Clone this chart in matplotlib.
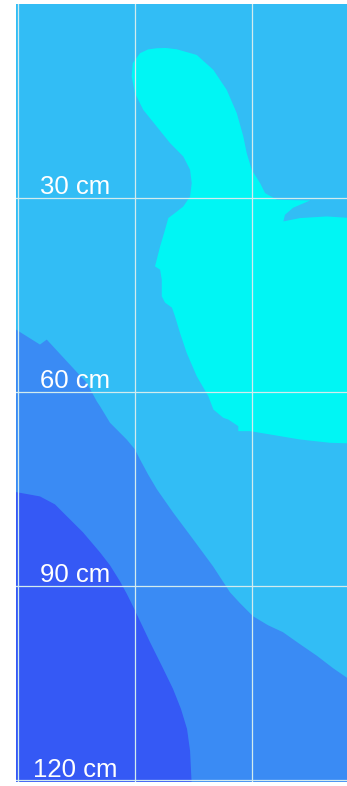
import matplotlib

matplotlib.use("Agg")
import matplotlib.pyplot as plt

# horizontal position (grid units) and depth (cm) of each zone boundary
CYAN_X = [1.183, 1.262, 1.354, 1.525, 1.667, 1.781, 1.867, 1.923, 1.952, 1.995, 2.066,
          2.109, 2.209, 2.493, 2.348, 2.279, 2.265, 2.408, 2.636, 2.85, 2.85, 2.664,
          2.408, 2.151, 1.981, 1.880, 1.880, 1.795, 1.752, 1.667, 1.624, 1.525, 1.439,
          1.382, 1.339, 1.313, 1.254, 1.226, 1.226, 1.212, 1.168, 1.212, 1.254, 1.282,
          1.339, 1.410, 1.468, 1.482, 1.468, 1.410, 1.297, 1.183, 1.068, 0.997, 0.969,
          0.978, 1.040, 1.108]
CYAN_DEPTH = [6.84, 6.80, 7.00, 7.88, 10.19, 13.28, 16.88, 20.49, 23.06, 25.64, 27.69,
              29.24, 30.27, 30.38, 31.51, 32.59, 33.62, 33.10, 32.85, 33.10, 67.95, 67.85,
              67.34, 66.56, 66.05, 66.05, 65.28, 64.25, 63.99, 62.70, 60.65, 57.56, 53.95,
              50.86, 48.29, 46.95, 46.18, 45.20, 42.63, 41.08, 40.57, 37.48, 34.90, 33.10,
              32.32, 31.31, 29.76, 27.69, 25.64, 23.58, 21.51, 18.95, 16.37, 13.79, 11.23,
              9.16, 7.61, 7.03]

MID_X = [-0.05, 0.185, 0.243, 0.414, 0.585, 0.670, 0.698, 0.784, 0.926, 0.997, 1.040,
         1.109, 1.185, 1.322, 1.494, 1.664, 1.809, 1.895, 2.006, 2.134, 2.262, 2.408,
         2.553, 2.690, 2.85]
MID_DEPTH = [50.0, 52.66, 51.89, 55.24, 58.58, 61.42, 62.19, 64.76, 67.34, 68.88, 70.42,
             72.74, 75.06, 78.61, 82.78, 86.95, 90.97, 92.66, 94.67, 96.06, 97.14, 99.0,
             100.8, 102.7, 104.7]

DEEP_X = [-0.05, 0.185, 0.313, 0.416, 0.553, 0.698, 0.784, 0.869, 0.929, 0.980, 1.049,
          1.126, 1.228, 1.322, 1.390, 1.442, 1.468, 1.485]
DEEP_DEPTH = [75.37, 76.14, 77.37, 79.23, 81.70, 84.79, 86.80, 89.27, 91.27, 93.13, 95.75,
              98.69, 102.4, 105.9, 109.0, 112.1, 115.5, 122.0]

DEPTH_TICKS = [30, 60, 90, 120]
DEPTH_LABELS = ["30 cm", "60 cm", "90 cm", "120 cm"]
X_GRID = [0, 1, 2]

X_MIN, X_MAX = -0.0197, 2.809
DEPTH_MAX = 120.3
BOTTOM = 122.0

LIGHT = "#32bdf5"
CYAN = "#00f6f4"
MID = "#3a8bf4"
DEEP = "#3559f5"
GRID = "#d2ecee"

fig = plt.figure(figsize=(3.47, 7.86), dpi=100)
ax = fig.add_axes([16.0 / 347, 4.0 / 786, (347 - 16.0) / 347, 778.0 / 786])
ax.set_facecolor(LIGHT)

ax.fill(MID_X + [X_MAX + 0.05, -0.05], MID_DEPTH + [BOTTOM, BOTTOM], color=MID, lw=0)
ax.fill(DEEP_X + [-0.05], DEEP_DEPTH + [BOTTOM], color=DEEP, lw=0)
ax.fill(CYAN_X, CYAN_DEPTH, color=CYAN, lw=0)

ax.set_xticks(X_GRID)
ax.set_yticks(DEPTH_TICKS)
ax.tick_params(length=0, labelbottom=False, labelleft=False)
ax.grid(True, color=GRID, lw=0.9)
ax.set_axisbelow(False)
for spine in ax.spines.values():
    spine.set_visible(False)

for depth, label in zip(DEPTH_TICKS, DEPTH_LABELS):
    ax.text(0.485, depth - 0.55, label, ha="center", va="baseline", color="white",
            fontsize=18.5, family=["Liberation Sans", "DejaVu Sans"], zorder=4)

ax.set_xlim(X_MIN, X_MAX)
ax.set_ylim(DEPTH_MAX, 0)

fig.savefig("out.png", dpi=100)
